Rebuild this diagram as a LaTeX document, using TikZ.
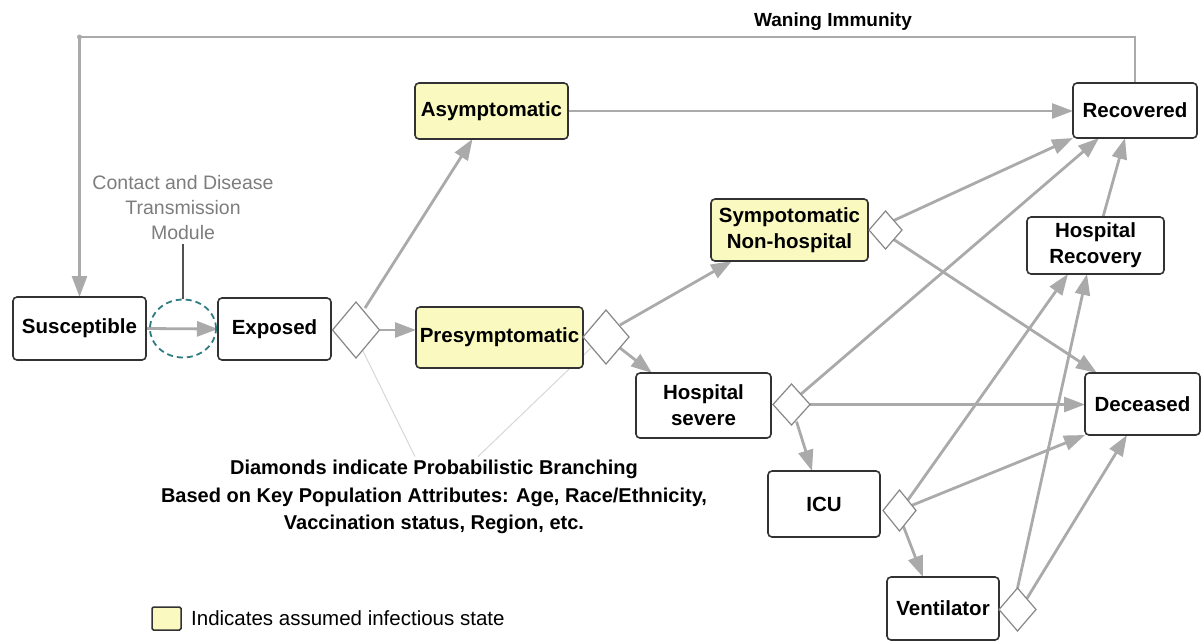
\documentclass[tikz,border=0pt]{standalone}
\usepackage{fontspec}
\setmainfont{Liberation Sans}
\usetikzlibrary{shapes.geometric,arrows.meta,calc,backgrounds}
\definecolor{boxyel}{RGB}{250,250,192}
\definecolor{arrgray}{RGB}{170,170,170}
\definecolor{boxline}{RGB}{50,50,50}
\definecolor{modgray}{RGB}{125,125,125}
\definecolor{tealc}{RGB}{45,125,130}
\definecolor{lightln}{RGB}{215,215,215}
\definecolor{diagray}{RGB}{135,135,135}
\begin{document}
\begin{tikzpicture}[x=1pt,y=-1pt,
  state/.style={draw=boxline, line width=1.6pt, rounded corners=4pt, fill=white, align=center,
    font=\fontsize{20.5}{26}\selectfont\bfseries, inner sep=0pt, outer sep=0pt},
  infect/.style={state, fill=boxyel},
  branch/.style={shape=diamond, draw=diagray, line width=1.2pt, fill=white, inner sep=0pt, outer sep=0pt},
  flow/.style={draw=arrgray, line width=2.8pt, -{Triangle[length=21pt,width=15pt]}},
  guide/.style={draw=lightln, line width=1pt}]
\useasboundingbox (0,0) rectangle (1201,641);

% states
\node[state, minimum width=133pt, minimum height=63pt] (Sus) at (79.5,328.5) {Susceptible};
\node[state, minimum width=113pt, minimum height=62pt] (Exp) at (274.5,329) {Exposed};
\node[infect, minimum width=153pt, minimum height=56pt] (Asym) at (491.5,111) {Asymptomatic};
\node[infect, minimum width=167pt, minimum height=61pt] (Pre) at (499.5,337.5) {Presymptomatic};
\node[infect, minimum width=157pt, minimum height=62pt] (Symp) at (789.5,230) {Sympotomatic\\Non-hospital};
\node[state, minimum width=135pt, minimum height=65pt] (HS) at (703.5,405.5) {Hospital\\severe};
\node[state, minimum width=124pt, minimum height=55pt] (Rec) at (1135,110.5) {Recovered};
\node[state, minimum width=137pt, minimum height=57pt] (HR) at (1095.5,245.5) {Hospital\\Recovery};
\node[state, minimum width=115pt, minimum height=62pt] (Dec) at (1142.5,404) {Deceased};
\node[state, minimum width=112pt, minimum height=66pt] (ICU) at (824,504) {ICU};
\node[state, minimum width=112pt, minimum height=63pt] (Vent) at (943,608.5) {Ventilator};

% branching diamonds
\node[branch, minimum width=47pt, minimum height=56pt] (D1) at (356,330) {};
\node[branch, minimum width=46pt, minimum height=54pt] (D2) at (606,337) {};
\node[branch, minimum width=33pt, minimum height=38pt] (D3) at (885.5,230) {};
\node[branch, minimum width=37pt, minimum height=41pt] (D4) at (791.5,404.5) {};
\node[branch, minimum width=33pt, minimum height=41pt] (D5) at (899.5,510.5) {};
\node[branch, minimum width=37pt, minimum height=43pt] (D6) at (1017.5,609.5) {};

% transmission module
\node[font=\fontsize{19.5}{25}\selectfont, text=modgray, align=center] (mod) at (183,208) {Contact and Disease\\Transmission\\Module};
\node[draw=tealc, dashed, dash pattern=on 6pt off 4pt, line width=1.8pt, ellipse, minimum width=66pt, minimum height=58pt, inner sep=0pt] (circ) at (183,328.5) {};

% labels
\node[font=\fontsize{19}{22}\selectfont\bfseries] (wlab) at (833,22) {Waning Immunity};
\node[font=\fontsize{20}{27.5}\selectfont\bfseries, align=center] (note) at (434,497) {Diamonds indicate Probabilistic Branching\\Based on Key Population Attributes: Age, Race/Ethnicity,\\Vaccination status, Region, etc.};
\node[draw=boxline, line width=1.5pt, fill=boxyel, minimum width=29pt, minimum height=23pt, inner sep=0pt, rounded corners=1.5pt] (leg) at (166.5,618.5) {};
\node[anchor=west, font=\fontsize{20.5}{24}\selectfont, inner sep=0pt] (legt) at (191,618) {Indicates assumed infectious state};

\coordinate (wane) at (79.5,37);

\begin{scope}[on background layer]
  \draw[guide] ($(D1)+(6.5,20)$) -- ($(note.north)+(-19,0)$);
  \draw[guide] ($(D2)+(-14,10)$) -- ($(note.north)+(44,0)$);
  \draw[draw=boxline!85, line width=1.8pt] (circ.north) -- (mod.south);
  \draw[flow] (Rec.north) |- (wane) -- (Sus.north);
  \fill[arrgray] (wane) circle (2.5pt);
  \draw[flow] (Sus.east) -- (Exp.west);
  \draw[flow] ($(D1)+(9,-22)$) -- ($(Asym.south)+(-19,0)$);
  \draw[flow] (D1.east) -- (D1.east -| Pre.west);
  \draw[flow] ($(D2)+(14,-12)$) -- ($(Symp.south west)+(21,0)$);
  \draw[flow] ($(D2)+(14,11)$) -- ($(HS.north west)+(16,0)$);
  \draw[flow] (Asym.east) -- (Asym.east -| Rec.west);
  \draw[flow] (D3.north east) -- (Rec.south west);
  \draw[flow] (D3.south east) -- ($(Dec.north west)+(12,0)$);
  \draw[flow] (D4.north east) -- ($(Rec.south west)+(26,0)$);
  \draw[flow] (D4.east) -- (D4.east -| Dec.west);
  \draw[flow] ($(D4)+(5,17)$) -- ($(ICU.north west)+(44,0)$);
  \draw[flow] ($(HR.north)+(7.5,0)$) -- ($(Rec.south)+(-10,0)$);
  \draw[flow] (D5.north east) -- ($(HR.south west)+(41,0)$);
  \draw[flow] ($(D5)+(12,-5)$) -- (Dec.south west);
  \draw[flow] ($(D5)+(4,16)$) -- ($(Vent.north west)+(36,0)$);
  \draw[flow] (D6.north) -- ($(HR.south)+(-8.5,0)$);
  \draw[flow] (D6.north east) -- ($(Dec.south)+(-15.5,0)$);
\end{scope}
\end{tikzpicture}
\end{document}
